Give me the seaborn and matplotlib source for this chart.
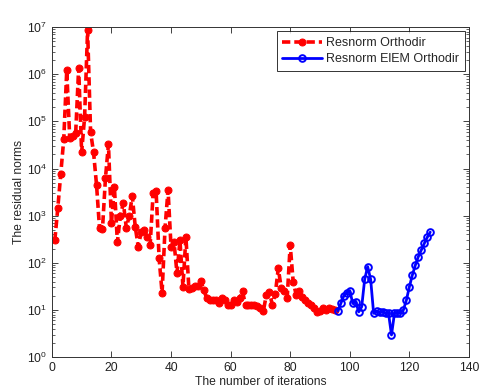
import numpy as np
import pandas as pd
import matplotlib
matplotlib.use("Agg")
import matplotlib.pyplot as plt
import seaborn as sns
from matplotlib.ticker import FixedLocator, MultipleLocator, NullFormatter

# Resnorm Orthodir (iterations 1..95)
orthodir_iter = list(range(1, 96))
orthodir_res = [
    300, 1450, 7800, 42000, 1.2e6, 45000, 48000, 56000, 1.35e6, 22000,
    1.25e5, 8.7e6, 60000, 22000, 4500, 550, 525, 6300, 33000, 710,
    4000, 275, 1000, 1860, 550, 1000, 2630, 575, 220, 450,
    500, 355, 240, 3000, 3300, 126, 23, 550, 3550, 220,
    280, 60, 300, 31, 355, 28, 29.5, 31.6, 33, 42,
    26, 18, 16, 16.6, 16, 14, 18, 16, 13, 12.6,
    16, 15, 18, 25, 12.6, 12.6, 13, 12.6, 12, 11.2,
    9.5, 21, 24, 13, 22, 76, 29, 25, 18, 240,
    40, 21, 25, 19, 16, 14, 12.6, 11.2, 9, 9.5,
    11.2, 10, 11.2, 10.5, 10,
]

# Resnorm ElEM Orthodir (iterations 96..127)
elem_iter = list(range(96, 128))
elem_res = [
    9.5, 13.8, 20, 23.4, 25.7, 13.8, 15, 9.1, 11.7, 44.7,
    83, 44.7, 8.5, 9.3, 8.9, 9.1, 8.5, 8.5, 2.95, 8.5,
    8.5, 8.5, 10, 16.2, 31, 55, 89, 135, 186, 257,
    347, 447,
]

decades = [1e0, 1e1, 1e2, 1e3, 1e4, 1e5, 1e6, 1e7]

df_orth = pd.DataFrame({"iter": orthodir_iter, "res": orthodir_res})
df_elem = pd.DataFrame({"iter": elem_iter, "res": elem_res})

sns.set_style("ticks")
plt.rcParams["font.family"] = ["Liberation Sans", "DejaVu Sans"]
plt.rcParams["font.size"] = 8.7
plt.rcParams["mathtext.fontset"] = "custom"
plt.rcParams["mathtext.rm"] = "Liberation Sans"

fig = plt.figure(figsize=(4.8, 3.92), dpi=100)
ax = fig.add_axes([0.108, 0.089, 0.869, 0.842])

sns.lineplot(data=df_orth, x="iter", y="res", ax=ax, color="#ff0000",
             linewidth=2.6, dashes=False, marker="o", markersize=5,
             markeredgecolor="#ff0000", label="Resnorm Orthodir")
ax.lines[-1].set_dashes((2.3, 1.1))
sns.lineplot(data=df_elem, x="iter", y="res", ax=ax, color="#0000ff",
             linestyle="-", linewidth=2.0, marker="o", markersize=4.8,
             markerfacecolor="none", markeredgecolor="#0000ff",
             markeredgewidth=1.4, label="Resnorm ElEM Orthodir")

ax.set_yscale("log")
ax.set_xlim(0, 140)
ax.set_ylim(1, 1e7)
ax.xaxis.set_major_locator(MultipleLocator(20))
ax.set_yticks(decades)
ax.set_yticklabels([f"$10^{{{int(np.log10(d))}}}$" for d in decades])
minor = [d * k for d in decades[:-1] for k in range(2, 10)]
ax.yaxis.set_minor_locator(FixedLocator(minor))
ax.yaxis.set_minor_formatter(NullFormatter())

ax.tick_params(which="both", direction="in", top=True, right=True,
               labelsize=8.7, colors="#222222")
ax.tick_params(which="major", length=4, width=0.6)
ax.tick_params(which="minor", length=2, width=0.5)
for s in ax.spines.values():
    s.set_linewidth(0.7)
    s.set_color("#333333")

ax.set_xlabel("The number of iterations", fontsize=8.7, labelpad=1.5)
ax.set_ylabel("The residual norms", fontsize=8.7, labelpad=1)

leg = ax.legend(loc="upper right", fontsize=9, frameon=True, fancybox=False,
                handlelength=3.2, borderpad=0.45, labelspacing=0.35,
                handletextpad=0.3, borderaxespad=0.35)
leg.get_frame().set_edgecolor("black")
leg.get_frame().set_linewidth(0.7)
leg.get_lines()[0].set_dashes((2.3, 1.1))

plt.savefig("out.png", dpi=100)
plt.close()
